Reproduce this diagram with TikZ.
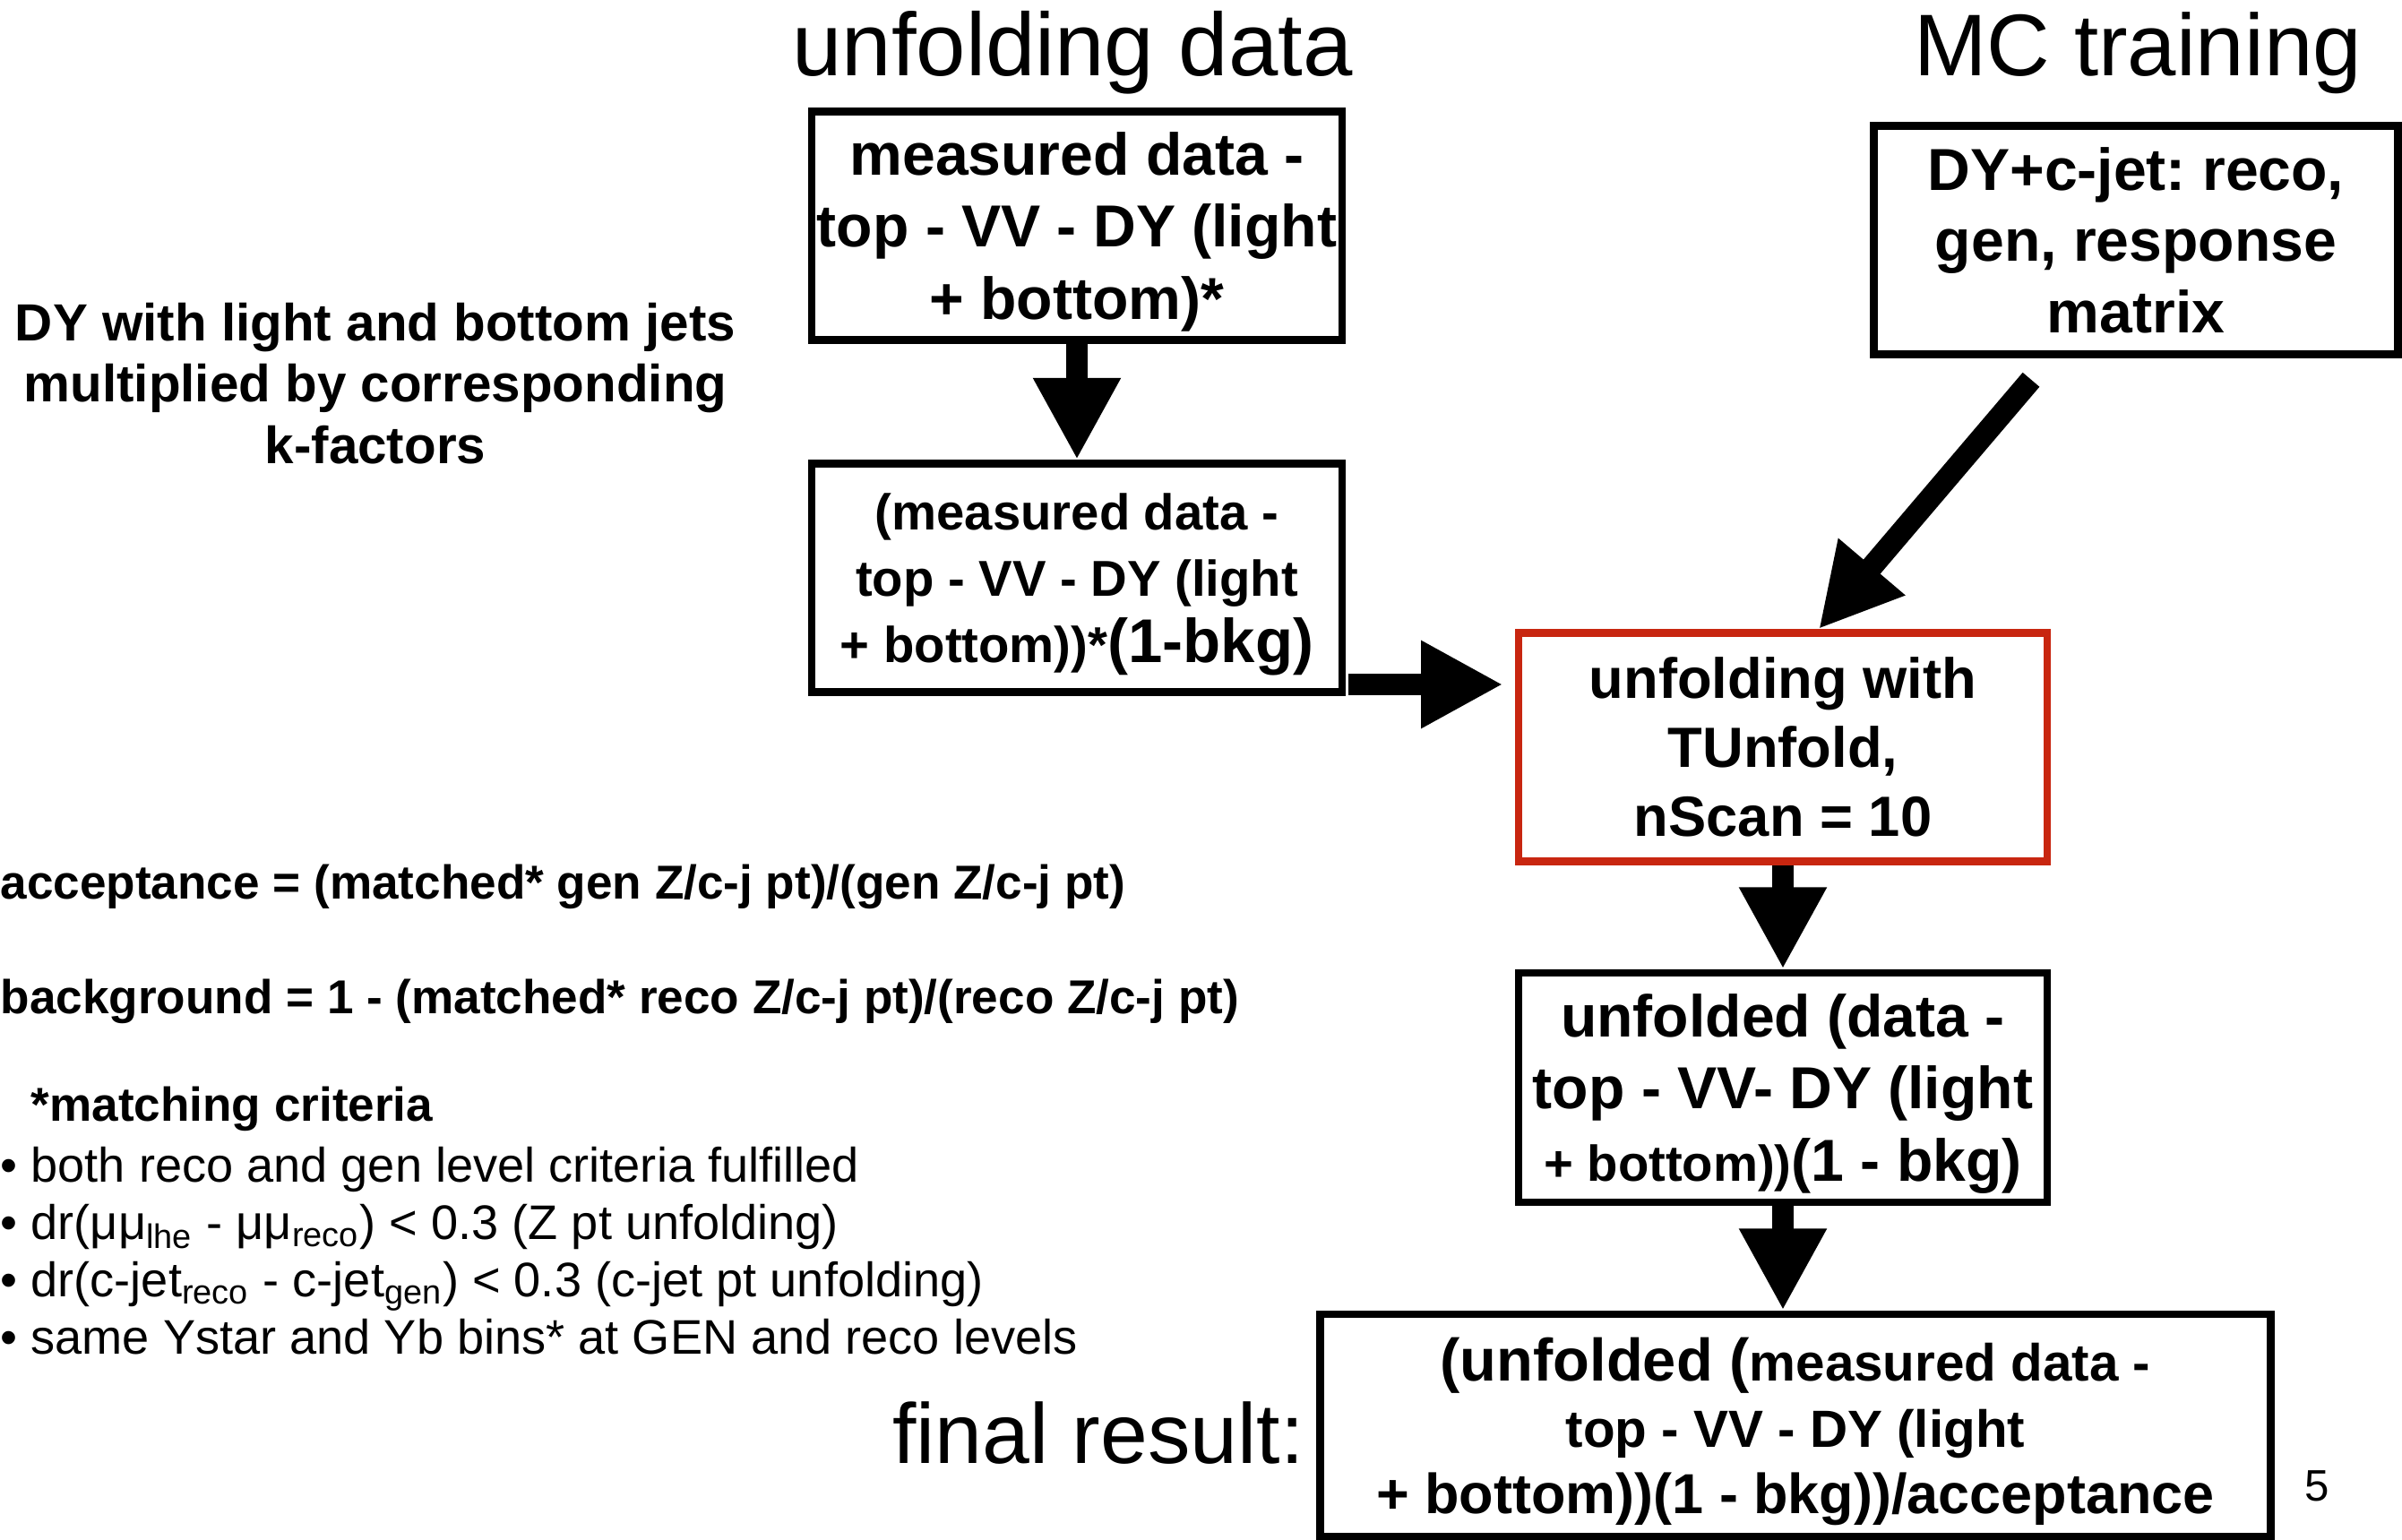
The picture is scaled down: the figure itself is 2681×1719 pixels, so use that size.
\documentclass[tikz,border=0pt]{standalone}
\usepackage{fontspec}
\setmainfont{Liberation Sans}
\usetikzlibrary{arrows.meta}
\definecolor{unfoldred}{RGB}{200,38,16}

\begin{document}
\frenchspacing
\begin{tikzpicture}[x=0.01cm, y=-0.01cm,
                stepbox/.style={draw, line width=2.4pt, inner sep=0pt, align=center, text depth=-0.6pt, minimum width=5.92cm, minimum height=2.55cm},
                bigarrow/.style={line width=7pt, -{Triangle[length=26pt, width=26pt]}},
                heading/.style={anchor=base, font={\fontsize{28.3}{32}\selectfont}},
                notebold/.style={anchor=west, inner sep=0pt, font={\fontsize{15.1}{18}\selectfont\bfseries}}]
                \useasboundingbox (0, 0) rectangle (2681, 1719);

                \node [heading] (titledata) at (1197, 85) {unfolding data};
                \node [heading, font={\fontsize{27.8}{32}\selectfont}] (titlemc) at (2386, 85) {MC training};

                \node [stepbox, font={\fontsize{18.8}{22.8}\selectfont\bfseries}] (measured) at (1202, 252) {measured data -\\top - VV - DY (light\\+ bottom)*};
                \node [stepbox, font={\fontsize{16}{21}\selectfont\bfseries}] (subtracted) at (1202, 645) {(measured data -\\top - VV - DY (light\\+ bottom))*{\fontsize{19.6}{21}\selectfont(1-bkg)}};
                \node [stepbox, minimum width=5.85cm, font={\fontsize{18.8}{22.5}\selectfont\bfseries}] (mctrain) at (2384, 268) {DY+c-jet: reco,\\gen, response\\matrix};
                \node [stepbox, draw=unfoldred, minimum width=5.9cm, text depth=-2.4pt, font={\fontsize{18}{21.9}\selectfont\bfseries}] (unfolding) at (1990, 834) {unfolding with\\TUnfold,\\nScan = 10};
                \node [stepbox, minimum width=5.9cm, minimum height=2.56cm, font={\fontsize{18.8}{23}\selectfont\bfseries}] (unfolded) at (1990, 1214) {unfolded (data -\\top - VV- DY (light\\{\fontsize{16}{23}\selectfont+ bottom))}(1 - bkg)};
                \node [stepbox, minimum width=10.6cm, minimum height=2.48cm, font={\fontsize{17.9}{21}\selectfont\bfseries}] (final) at (2004, 1591) {{\fontsize{19}{21}\selectfont(unfolded (}{\fontsize{16.6}{21}\selectfont measured data -}\\{\fontsize{16.6}{21}\selectfont top - VV - DY (light}\\+ bottom))(1 - bkg))/acceptance};

                \draw [bigarrow] (measured.south) to (subtracted.north);
                \draw [bigarrow] ([shift={(3,119)}]subtracted.east) to ([shift={(-13,-70)}]unfolding.west);
                \draw [bigarrow] ([shift={(-117,24)}]mctrain.south) to ([shift={(40,0)}]unfolding.north);
                \draw [bigarrow] (unfolding.south) to (unfolded.north);
                \draw [bigarrow] (unfolded.south) to (unfolded.south |- final.north);

                \node [heading, anchor=base east, font={\fontsize{27}{32}\selectfont}] (finallabel) at (1468, 1633) {final result:};
                \node [font={\fontsize{14}{16}\selectfont}] (pagenum) at (2586, 1659) {5};

                \node [align=center, font={\fontsize{16.6}{19.4}\selectfont\bfseries}] (dynote) at (419, 428) {DY with light and bottom jets\\multiplied by corresponding\\k-factors};

                \node [notebold] (acceptance) at (0, 990) {acceptance = (matched* gen Z/c-j pt)/(gen Z/c-j pt)};
                \node [notebold] (background) at (0, 1118) {background = 1 - (matched* reco Z/c-j pt)/(reco Z/c-j pt)};
                \node [notebold] (criteria) at (34, 1238) {*matching criteria};
                \node [anchor=north west, align=left, inner sep=0pt, font={\fontsize{15.4}{18.2}\selectfont}] (criterialist) at (0, 1280) {\textbullet\ both reco and gen level criteria fulfilled\\\textbullet\ dr(μμ\textsubscript{lhe} - μμ\textsubscript{reco}) < 0.3 (Z pt unfolding)\\\textbullet\ dr(c-jet\textsubscript{reco} - c-jet\textsubscript{gen}) < 0.3 (c-jet pt unfolding)\\\textbullet\ same Ystar and Yb bins* at GEN and reco levels};
            \end{tikzpicture}
\end{document}
